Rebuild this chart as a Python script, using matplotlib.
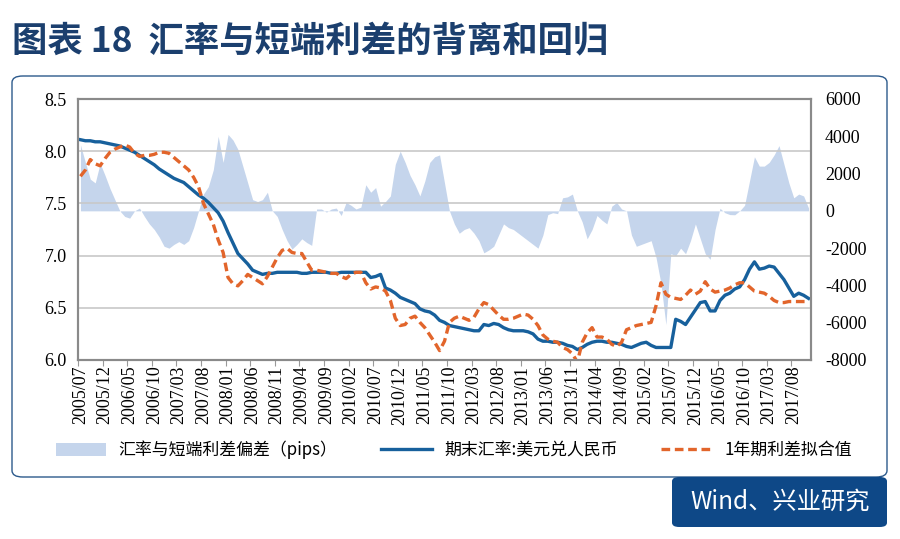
import numpy as np
import pandas as pd
import matplotlib
matplotlib.use("Agg")
import matplotlib.pyplot as plt
from matplotlib.patches import FancyBboxPatch, Patch
from matplotlib.lines import Line2D

plt.rcParams['font.family'] = ['Noto Sans CJK SC', 'DejaVu Sans']

# months 2005/07 .. 2017/11
months = list(pd.period_range('2005-07', '2017-11', freq='M').strftime('%Y/%m'))

# 期末汇率: 美元兑人民币 (left axis)
usdcny = [
    8.11, 8.10, 8.10, 8.09, 8.09, 8.08,
    8.07, 8.06, 8.05, 8.03, 8.01, 7.99, 7.96, 7.93, 7.90, 7.87, 7.83, 7.80,
    7.77, 7.74, 7.72, 7.70, 7.66, 7.62, 7.58, 7.55, 7.51, 7.46, 7.41, 7.33,
    7.22, 7.12, 7.02, 6.97, 6.92, 6.86, 6.84, 6.82, 6.83, 6.83, 6.84, 6.84,
    6.84, 6.84, 6.84, 6.83, 6.83, 6.84, 6.84, 6.84, 6.84, 6.83, 6.83, 6.84,
    6.84, 6.84, 6.84, 6.84, 6.84, 6.79, 6.80, 6.82, 6.69, 6.67, 6.64, 6.60,
    6.58, 6.56, 6.54, 6.49, 6.47, 6.46, 6.43, 6.38, 6.36, 6.33, 6.32, 6.31,
    6.30, 6.29, 6.28, 6.28, 6.34, 6.33, 6.35, 6.34, 6.31, 6.29, 6.28, 6.28,
    6.28, 6.27, 6.25, 6.20, 6.18, 6.18, 6.17, 6.17, 6.16, 6.14, 6.13, 6.10,
    6.12, 6.15, 6.17, 6.18, 6.18, 6.17, 6.17, 6.16, 6.15, 6.13, 6.12, 6.14,
    6.16, 6.17, 6.14, 6.12, 6.12, 6.12, 6.12, 6.39, 6.37, 6.34, 6.41, 6.48,
    6.55, 6.56, 6.47, 6.47, 6.57, 6.62, 6.64, 6.68, 6.70, 6.77, 6.87, 6.94,
    6.87, 6.88, 6.90, 6.89, 6.83, 6.77, 6.69, 6.61, 6.64, 6.62, 6.59,
]

# 1年期利差拟合值 (left axis)
fitted = [
    7.76, 7.82, 7.92, 7.88, 7.86, 7.93,
    7.99, 8.02, 8.04, 8.06, 8.04, 7.98, 7.95, 7.96, 7.96, 7.97, 7.99, 7.99,
    7.98, 7.94, 7.90, 7.86, 7.82, 7.75, 7.66, 7.50, 7.40, 7.30, 7.15, 7.03,
    6.79, 6.73, 6.71, 6.76, 6.82, 6.79, 6.76, 6.73, 6.80, 6.89, 6.98, 7.05,
    7.07, 7.03, 7.02, 7.02, 6.94, 6.86, 6.86, 6.85, 6.84, 6.83, 6.83, 6.80,
    6.78, 6.82, 6.84, 6.84, 6.74, 6.68, 6.70, 6.69, 6.66, 6.57, 6.40, 6.33,
    6.34, 6.40, 6.42, 6.36, 6.31, 6.24, 6.17, 6.09, 6.18, 6.36, 6.40, 6.42,
    6.40, 6.38, 6.41, 6.49, 6.55, 6.53, 6.48, 6.43, 6.39, 6.39, 6.40, 6.42,
    6.44, 6.43, 6.39, 6.33, 6.24, 6.20, 6.18, 6.17, 6.12, 6.10, 6.06, 5.98,
    6.17, 6.26, 6.31, 6.22, 6.22, 6.20, 6.15, 6.13, 6.17, 6.29, 6.31, 6.33,
    6.34, 6.35, 6.36, 6.52, 6.74, 6.63, 6.60, 6.59, 6.58, 6.62, 6.67, 6.63,
    6.66, 6.75, 6.68, 6.65, 6.66, 6.67, 6.69, 6.72, 6.74, 6.74, 6.70, 6.66,
    6.65, 6.64, 6.61, 6.57, 6.55, 6.55, 6.56, 6.56, 6.56, 6.56, 6.56,
]

# 汇率与短端利差偏差 (pips, right axis)
gap = [
    3540, 2600, 1700, 1500, 2550, 1900,
    1200, 600, 0, -300, -390, 0, 150, -300, -700, -1000, -1400, -1900,
    -2000, -1800, -1650, -1800, -1600, -900, 0, 900, 1300, 2200, 4000, 2600,
    4100, 3800, 3300, 2400, 1500, 600, 500, 600, 1000, 0, -300, -1000,
    -1600, -2050, -1800, -1500, -1700, -1850, 100, 100, -70, 100, 150, -250,
    450, 300, 100, 200, 1400, 1000, 1250, 250, 500, 800, 2500, 3200,
    2600, 1900, 1400, 800, 1600, 2600, 2900, 3000, 1500, 0, -700, -1200,
    -1000, -900, -1200, -1600, -2250, -2100, -1900, -1300, -700, -900, -1000, -1200,
    -1400, -1600, -1800, -2000, -1300, -200, -100, -150, 700, 750, 900, 0,
    -600, -1500, -1000, -250, -500, -700, 250, 450, 100, 0, -1300, -1900,
    -1800, -1700, -1600, -2500, -3900, -6100, -2300, -2400, -2000, -2300, -1600, -700,
    -1500, -2300, -2600, -1000, 140, -100, -200, -210, 0, 300, 1600, 2900,
    2400, 2400, 2600, 3000, 3500, 2500, 1500, 700, 900, 800, 150,
]

labels = ['汇率与短端利差偏差（pips）', '期末汇率:美元兑人民币', '1年期利差拟合值']
title = '图表 18  汇率与短端利差的背离和回归'
source = 'Wind、兴业研究'

c_area = '#c5d5ec'
c_blue = '#17609c'
c_orange = '#e2652b'
c_navy = '#0e4887'

fig = plt.figure(figsize=(9, 5.39), dpi=100)

# frame around chart
fig.patches.append(FancyBboxPatch((12 / 900, 1 - 477 / 539), 875 / 900, 401 / 539,
                                  boxstyle='round,pad=0,rounding_size=0.012',
                                  transform=fig.transFigure, fc='white',
                                  ec='#2c5a8c', lw=1.0, zorder=-5))
fig.text(12 / 900, 1 - 42 / 539, title, fontsize=25.5, color='#1b3f6e',
         va='center', ha='left', fontweight='bold')

x = np.arange(len(months))
ax = fig.add_axes([78 / 900, 1 - 360 / 539, 733 / 900, 261 / 539])
ax2 = ax.twinx()

ax2.fill_between(x, 0, gap, color=c_area, lw=0)
ax2.set_ylim(-8000, 6000)
ax2.set_yticks(np.arange(-8000, 6001, 2000))
ax2.set_yticklabels([str(v) for v in range(-8000, 6001, 2000)])

ax.set_zorder(ax2.get_zorder() + 1)
ax.patch.set_visible(False)
ax.plot(x, usdcny, color=c_blue, lw=2.4, solid_joinstyle='round')
ax.plot(x, fitted, color=c_orange, lw=2.4, dashes=(2.6, 1.4))
ax.set_ylim(6.0, 8.5)
ax.set_yticks(np.arange(6.0, 8.51, 0.5))
ax.set_yticklabels(['%.1f' % v for v in np.arange(6.0, 8.51, 0.5)])
ax.set_xlim(-0.5, len(months) - 0.5)
ax.grid(axis='y', color='#c8c8c8', lw=1.2)

# category ticks at boundaries, labels at centres
ax.set_xticks(np.arange(-0.5, len(months), 5))
ax.set_xticklabels([])
ax.set_xticks(np.arange(0, len(months), 5), minor=True)
ax.set_xticklabels(months[::5], minor=True, rotation=90)
ax.tick_params(axis='x', which='major', length=4, color='#999999')
ax.tick_params(axis='x', which='minor', length=0, pad=4)

for a in (ax, ax2):
    for s in a.spines.values():
        s.set_color('#8a8a8a')
        s.set_linewidth(1.5)
    a.tick_params(axis='y', length=0)
    for t in a.get_yticklabels() + a.get_xticklabels(minor=True):
        t.set_fontfamily('Liberation Serif')
        t.set_fontsize(13)
ax.tick_params(axis='y', pad=8)
ax2.tick_params(axis='y', pad=10)

handles = [Patch(fc=c_area, ec='none'),
           Line2D([], [], color=c_blue, lw=2.4),
           Line2D([], [], color=c_orange, lw=2.4, dashes=(2.6, 1.4))]
fig.legend(handles, labels, loc='center', bbox_to_anchor=(0.504, 1 - 450 / 539),
           ncol=3, frameon=False, fontsize=12.2, handlelength=3.0,
           handleheight=0.8, columnspacing=2.6, handletextpad=0.7)

# source box
fig.patches.append(FancyBboxPatch((672 / 900, 1 - 527 / 539), 215 / 900, 50 / 539,
                                  boxstyle='round,pad=0,rounding_size=0.008',
                                  transform=fig.transFigure, fc=c_navy,
                                  ec='none', zorder=1))
fig.text(780 / 900, 1 - 502 / 539, source, fontsize=17.5, color='white',
         ha='center', va='center')

fig.savefig('out.png', dpi=100)
